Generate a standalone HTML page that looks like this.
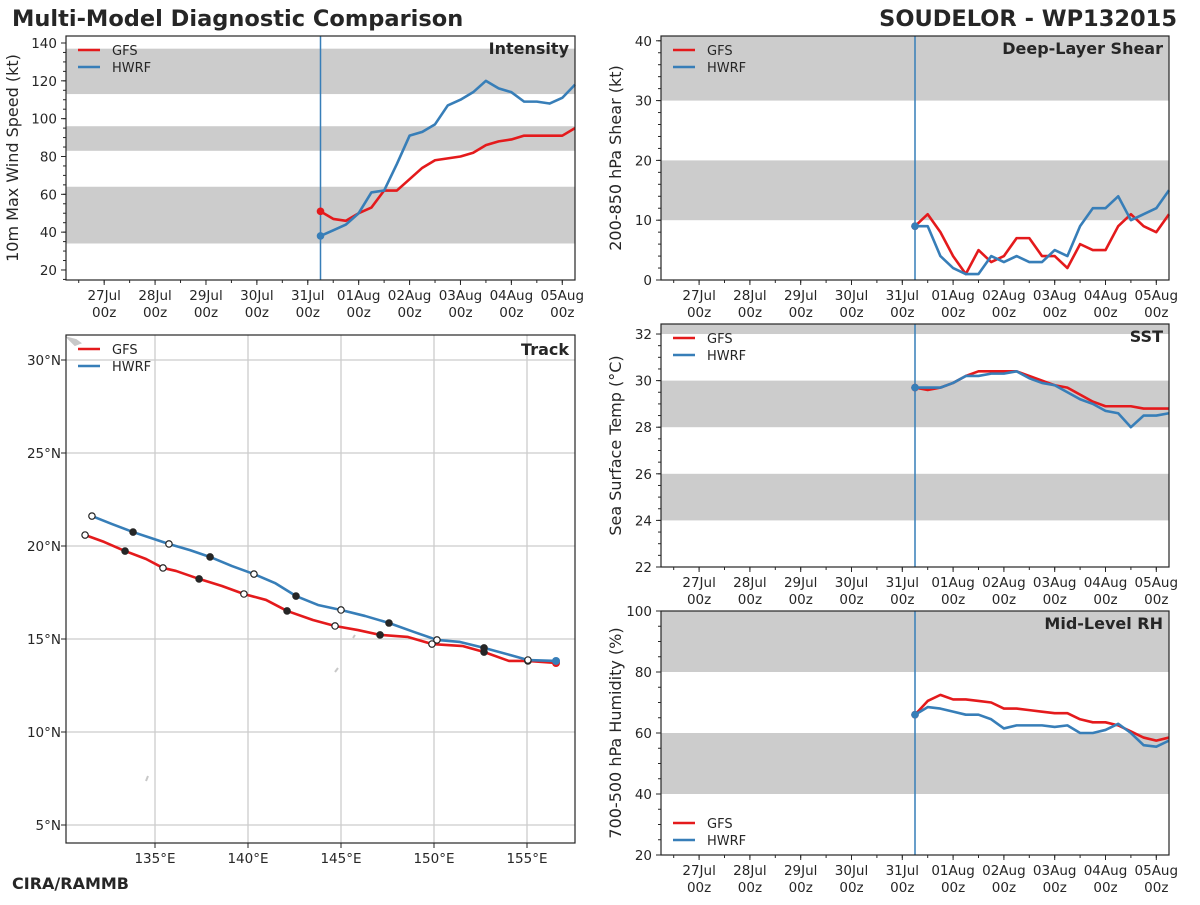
<!DOCTYPE html>
<html><head><meta charset="utf-8"><style>
body{margin:0;background:#fff;}
svg text{font-family:"DejaVu Sans","Liberation Sans",sans-serif;fill:#262626;}
</style></head><body>
<svg id="s" width="1200" height="900" viewBox="0 0 1200 900">
<text x="12" y="26" font-size="22.5" font-weight="bold">Multi-Model Diagnostic Comparison</text>
<text x="1177" y="26" font-size="22.5" font-weight="bold" text-anchor="end">SOUDELOR - WP132015</text>
<text x="12" y="889" font-size="16" font-weight="bold">CIRA/RAMMB</text>
</svg>
<script>
// time in hours from 31Jul 06z, every 6h
const hours=[0,6,12,18,24,30,36,42,48,54,60,66,72,78,84,90,96,102,108,114,120];
const dayLabels=['27Jul','28Jul','29Jul','30Jul','31Jul','01Aug','02Aug','03Aug','04Aug','05Aug'];
const intGFS=[51,47,46,50,53,62,62,68,74,78,79,80,82,86,88,89,91,91,91,91,95];
const intHWRF=[38,41,44,50,61,62,76,91,93,97,107,110,114,120,116,114,109,109,108,111,118];
const shrGFS=[9,11,8,4,1,5,3,4,7,7,4,4,2,6,5,5,9,11,9,8,11];
const shrHWRF=[9,9,4,2,1,1,4,3,4,3,3,5,4,9,12,12,14,10,11,12,15];
const sstGFS=[29.7,29.6,29.7,29.9,30.2,30.4,30.4,30.4,30.4,30.2,30.0,29.8,29.7,29.4,29.1,28.9,28.9,28.9,28.8,28.8,28.8];
const sstHWRF=[29.7,29.7,29.7,29.9,30.2,30.2,30.3,30.3,30.4,30.1,29.9,29.8,29.5,29.2,29.0,28.7,28.6,28.0,28.5,28.5,28.6];
const rhGFS=[66,70.5,72.5,71,71,70.5,70,68,68,67.5,67,66.5,66.5,64.5,63.5,63.5,62.5,60.5,58.5,57.5,58.5];
const rhHWRF=[66,68.5,68,67,66,66,64.5,61.5,62.5,62.5,62.5,62,62.5,60,60,61,63,60,56,55.5,57.5];
const trkGFSlon=[156.56,155.05,154.03,152.69,151.56,149.89,148.60,147.10,145.91,144.68,143.49,142.10,140.97,139.78,138.60,137.37,136.13,135.43,134.52,133.39,132.26,131.24];
const trkGFSlat=[13.71,13.82,13.82,14.30,14.62,14.73,15.11,15.22,15.48,15.70,16.02,16.51,17.10,17.42,17.85,18.23,18.66,18.82,19.30,19.73,20.22,20.59];
const trkHWRFlon=[156.56,155.05,154.09,152.69,151.40,150.16,148.92,147.58,146.29,145.00,143.76,142.58,141.45,140.32,139.14,137.96,136.88,135.75,134.78,133.82,132.69,131.61];
const trkHWRFlat=[13.82,13.87,14.14,14.52,14.84,14.95,15.38,15.86,16.24,16.56,16.83,17.31,18.01,18.49,18.92,19.41,19.78,20.11,20.43,20.75,21.18,21.61];
const lonTicks=[135,140,145,150,155];
const latTicks=[5,10,15,20,25,30];

const RED='#e41a1c',BLUE='#377eb8',NS='http://www.w3.org/2000/svg';
const svg=document.getElementById('s');
function el(tag,attrs,parent,txt){const e=document.createElementNS(NS,tag);for(const k in attrs)e.setAttribute(k,attrs[k]);if(txt!==undefined)e.textContent=txt;(parent||svg).appendChild(e);return e;}

function timeChart(o){
  const g=el('g',{});
  
  
  const L=o.x0,R=o.x1,T=o.y0,B=o.y1;
  const xs=h=>L+(h+120)/240*(R-L);
  const ys=v=>B-(v-o.vmin)/(o.vmax-o.vmin)*(B-T);
  o.bands.forEach(b=>{const lo=Math.max(b[0],o.vmin),hi=Math.min(b[1],o.vmax);
    const r=el('rect',{x:L,y:ys(hi),width:R-L,height:ys(lo)-ys(hi),fill:'#cccccc'},g);
    
    });
  o.yt.forEach(v=>{el('line',{x1:L-5,x2:L,y1:ys(v),y2:ys(v),stroke:'#262626'},g);
    const t=el('text',{x:L-9,y:ys(v)+5,'font-size':13.5,'text-anchor':'end'},g,v);
    
    });
  for(let v=o.vmin0;v<=o.vmax;v+=o.ym){if(v>=o.vmin)el('line',{x1:L-3,x2:L,y1:ys(v),y2:ys(v),stroke:'#262626'},g);}
  for(let i=0;i<dayLabels.length;i++){const h=-102+i*24, x=xs(h);
    el('line',{x1:x,x2:x,y1:B,y2:B+5,stroke:'#262626'},g);
    const t1=el('text',{x:x,y:B+20,'font-size':13.5,'text-anchor':'middle'},g,dayLabels[i]);
    
    
    el('text',{x:x,y:B+37,'font-size':13.5,'text-anchor':'middle'},g,'00z');}
  for(let h=-114;h<=120;h+=12){el('line',{x1:xs(h),x2:xs(h),y1:B,y2:B+3,stroke:'#262626'},g);}
  const il=el('line',{x1:xs(0),x2:xs(0),y1:T,y2:B,stroke:BLUE,'stroke-width':1.5},g);
  
  
  [[o.g,RED,'gfs'],[o.h,BLUE,'hwrf']].forEach(s=>{
    const p=el('polyline',{points:hours.map((h,i)=>xs(h)+','+ys(s[0][i])).join(' '),fill:'none',stroke:s[1],'stroke-width':2.6,'stroke-linejoin':'round'},g);
    
    
    el('circle',{cx:xs(0),cy:ys(s[0][0]),r:3.8,fill:s[1]},g);
  });
  el('rect',{x:L,y:T,width:R-L,height:B-T,fill:'none',stroke:'#262626','stroke-width':1.2},g);
  const tt=el('text',{x:R-6,y:T+18,'font-size':16,'font-weight':'bold','text-anchor':'end'},g,o.title);
  
  
  const yl=el('text',{x:0,y:0,'font-size':16,'text-anchor':'middle',transform:`translate(${L-o.yoff},${(T+B)/2}) rotate(-90)`},g,o.ylab);
  
  
  legend(g,L+12,o.legY);
}
function legend(g,x,y){
  [['GFS',RED],['HWRF',BLUE]].forEach((s,i)=>{
    const lg=el('g',{},g);
    
    
    el('line',{x1:x,x2:x+22,y1:y+i*17,y2:y+i*17,stroke:s[1],'stroke-width':2.6},lg);
    el('text',{x:x+34,y:y+i*17+5,'font-size':13},lg,s[0]);
  });
}
timeChart({name:'intensity',x0:66,x1:575,y0:36,y1:280,vmin:14.7,vmax:143.7,vmin0:15,ym:5,yt:[20,40,60,80,100,120,140],bands:[[34,64],[83,96],[113,137]],g:intGFS,h:intHWRF,title:'Intensity',ylab:'10m Max Wind Speed (kt)',legY:50,yoff:48});
timeChart({name:'shear',x0:661,x1:1169,y0:36,y1:280,vmin:0,vmax:40.8,vmin0:0,ym:2,yt:[0,10,20,30,40],bands:[[10,20],[30,41]],g:shrGFS,h:shrHWRF,title:'Deep-Layer Shear',ylab:'200-850 hPa Shear (kt)',legY:50,yoff:40});
timeChart({name:'sst',x0:661,x1:1169,y0:324,y1:567,vmin:22,vmax:32.43,vmin0:22,ym:0.5,yt:[22,24,26,28,30,32],bands:[[24,26],[28,30],[32,33]],g:sstGFS,h:sstHWRF,title:'SST',ylab:'Sea Surface Temp (°C)',legY:338,yoff:40});
timeChart({name:'rh',x0:661,x1:1169,y0:611,y1:855,vmin:20,vmax:100,vmin0:20,ym:5,yt:[20,40,60,80,100],bands:[[40,60],[80,100]],g:rhGFS,h:rhHWRF,title:'Mid-Level RH',ylab:'700-500 hPa Humidity (%)',legY:823,yoff:40});

(function(){
  const g=el('g',{});
  
  
  const L=66,R=575,T=335,B=843;
  const xs=lon=>155+(lon-135)*18.6;
  const ys=lat=>546-(lat-20)*18.6;
  lonTicks.forEach(v=>{el('line',{x1:xs(v),x2:xs(v),y1:T,y2:B,stroke:'#cccccc','stroke-width':1.3},g);
    el('line',{x1:xs(v),x2:xs(v),y1:B,y2:B+5,stroke:'#262626'},g);
    const t=el('text',{x:xs(v),y:B+20,'font-size':13.5,'text-anchor':'middle'},g,v+'°E');
    
    });
  latTicks.forEach(v=>{el('line',{x1:L,x2:R,y1:ys(v),y2:ys(v),stroke:'#cccccc','stroke-width':1.3},g);
    el('line',{x1:L-5,x2:L,y1:ys(v),y2:ys(v),stroke:'#262626'},g);
    const t=el('text',{x:L-5,y:ys(v)+5,'font-size':13.5,'text-anchor':'end'},g,v+'°N');
    
    });
  el('path',{d:'M68 338 l8 2 l4 3 l-5 2 z M335 672 l3 -4 M353 638 l2 -3 M146 781 l2 -5',stroke:'#c8c8c8','stroke-width':2,fill:'#c8c8c8'},g);
  [[trkGFSlon,trkGFSlat,RED,'gfs'],[trkHWRFlon,trkHWRFlat,BLUE,'hwrf']].forEach(s=>{
    const p=el('polyline',{points:s[0].map((v,i)=>xs(v)+','+ys(s[1][i])).join(' '),fill:'none',stroke:s[2],'stroke-width':2.6,'stroke-linejoin':'round'},g);
    
    
    el('circle',{cx:xs(s[0][0]),cy:ys(s[1][0]),r:4,fill:s[2]},g);
    for(let i=1;i<s[0].length;i+=2){
      const hollow=((i-1)/2)%2===0;
      const c=el('circle',{cx:xs(s[0][i]),cy:ys(s[1][i]),r:3.2,fill:hollow?'#fff':'#262626',stroke:'#262626','stroke-width':1.2},g);
      
      
    }
  });
  el('rect',{x:L,y:T,width:R-L,height:B-T,fill:'none',stroke:'#262626','stroke-width':1.2},g);
  const tt=el('text',{x:R-6,y:T+20,'font-size':16,'font-weight':'bold','text-anchor':'end'},g,'Track');
  
  
  legend(g,L+12,349);
})();
</script>
</body></html>
